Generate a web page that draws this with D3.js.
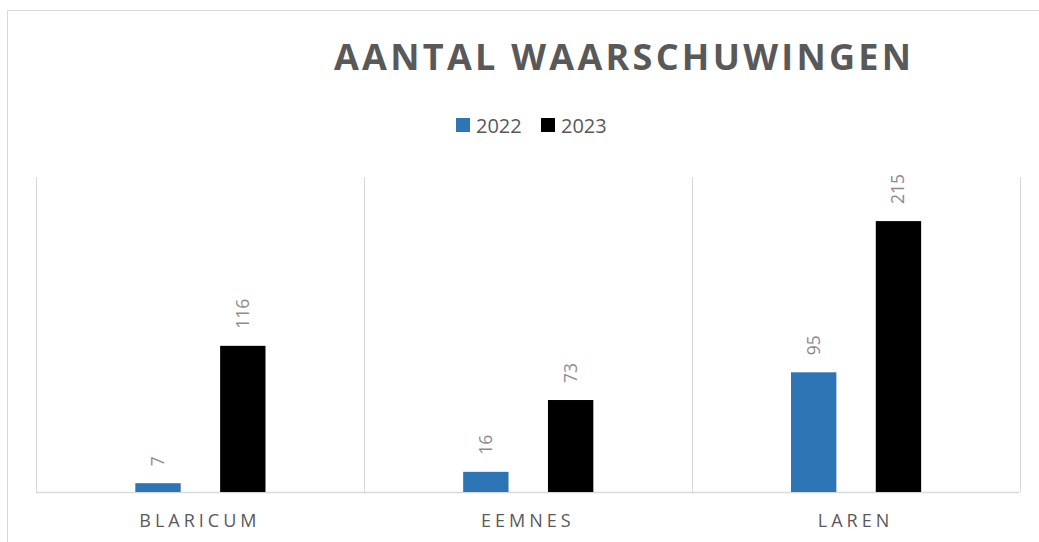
<!DOCTYPE html>
<html>
<head>
<meta charset="utf-8">
<script src="https://cdn.jsdelivr.net/npm/d3@7"></script>
<style>
  html, body { margin: 0; padding: 0; background: #fff; }
  svg { display: block; }
</style>
</head>
<body>
<svg id="chart" width="1039" height="542"></svg>
<script>
const categories = ["BLARICUM", "EEMNES", "LAREN"];
const seriesNames = ["2022", "2023"];
const values2022 = [7, 16, 95];
const values2023 = [116, 73, 215];
const seriesColors = ["#2E75B6", "#000000"];
const titleText = "AANTAL WAARSCHUWINGEN";

const svg = d3.select("#chart");
const font = "'Open Sans', 'Liberation Sans', sans-serif";

// outer frame
svg.append("rect").attr("x", 7.5).attr("y", 10.5).attr("width", 1040).attr("height", 540)
  .attr("fill", "none").attr("stroke", "#d9d9d9").attr("stroke-width", 1);

const plot = { left: 36, right: 1019.5, top: 177, bottom: 492 };

const x0 = d3.scaleBand().domain(categories).range([plot.left, plot.right]).padding(0);
const x1 = d3.scaleBand().domain(seriesNames)
  .range([x0.bandwidth() * 0.303, x0.bandwidth() * 0.7]).paddingInner(0.465);
const y = d3.scaleLinear().domain([0, 250]).range([plot.bottom, plot.top]);

// vertical category gridlines
const bounds = categories.map(c => x0(c)).concat([x0(categories[categories.length - 1]) + x0.bandwidth()]);
svg.append("g").selectAll("line").data(bounds).join("line")
  .attr("x1", d => Math.round(d) + 0.5).attr("x2", d => Math.round(d) + 0.5)
  .attr("y1", plot.top).attr("y2", plot.bottom)
  .attr("stroke", "#d9d9d9").attr("stroke-width", 1);

// baseline
svg.append("line").attr("x1", plot.left).attr("x2", plot.right)
  .attr("y1", plot.bottom + 0.5).attr("y2", plot.bottom + 0.5)
  .attr("stroke", "#d9d9d9").attr("stroke-width", 1.5);

const data = categories.map((c, i) => ({
  cat: c,
  vals: [{ s: "2022", v: values2022[i] }, { s: "2023", v: values2023[i] }]
}));

const groups = svg.append("g").selectAll("g").data(data).join("g")
  .attr("transform", d => `translate(${x0(d.cat)},0)`);

groups.selectAll("rect").data(d => d.vals).join("rect")
  .attr("x", d => x1(d.s))
  .attr("width", x1.bandwidth())
  .attr("y", d => y(d.v))
  .attr("height", d => y(0) - y(d.v))
  .attr("fill", (d, i) => seriesColors[i]);

groups.selectAll("text").data(d => d.vals).join("text")
  .attr("transform", d => `translate(${x1(d.s) + x1.bandwidth() / 2 + 6},${y(d.v) - 17}) rotate(-90)`)
  .attr("text-anchor", "start")
  .attr("font-family", font)
  .attr("font-size", 17.5)
  .attr("fill", "#8c8c8c")
  .text(d => d.v);

// category axis labels
svg.append("g").selectAll("text").data(categories).join("text")
  .attr("x", d => x0(d) + x0.bandwidth() / 2)
  .attr("y", 527)
  .attr("text-anchor", "middle")
  .attr("font-family", font)
  .attr("font-size", 18)
  .attr("letter-spacing", "4px")
  .attr("fill", "#595959")
  .text(d => d);

// title
svg.append("text")
  .attr("x", 334).attr("y", 70)
  .attr("text-anchor", "start")
  .attr("font-family", font)
  .attr("font-weight", "bold")
  .attr("font-size", 36)
  .attr("textLength", 577)
  .attr("lengthAdjust", "spacing")
  .attr("fill", "#595959")
  .text(titleText);

// legend
const legendItems = [{ name: "2022", x: 456 }, { name: "2023", x: 541 }];
const lg = svg.append("g").selectAll("g").data(legendItems).join("g")
  .attr("transform", d => `translate(${d.x},118)`);
lg.append("rect").attr("width", 14).attr("height", 14)
  .attr("fill", (d, i) => seriesColors[i]);
lg.append("text").attr("x", 20).attr("y", 14.5)
  .attr("font-family", font).attr("font-size", 20)
  .attr("fill", "#595959")
  .text(d => d.name);
</script>
</body>
</html>
